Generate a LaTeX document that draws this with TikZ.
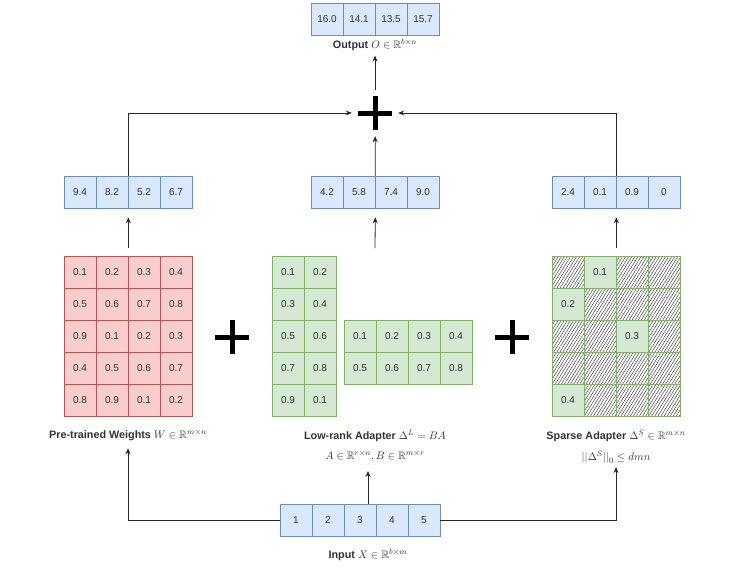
\documentclass[tikz,border=0pt]{standalone}
\usepackage{amssymb}
\usepackage{fontspec}
\setmainfont{Liberation Sans}
\usetikzlibrary{arrows.meta,patterns.meta}
\definecolor{bluefill}{HTML}{DAE8FC}
\definecolor{blueline}{HTML}{6C8EBF}
\definecolor{redfill}{HTML}{F8CECC}
\definecolor{redline}{HTML}{B85450}
\definecolor{greenfill}{HTML}{D5E8D4}
\definecolor{greenline}{HTML}{82B366}
\definecolor{txtgray}{HTML}{333333}
\tikzset{
  cell/.style={draw, minimum size=32pt, inner sep=0pt, line width=0.7pt,
    text=txtgray, font=\fontsize{10}{12}\selectfont},
  bcell/.style={cell, fill=bluefill, draw=blueline},
  rcell/.style={cell, fill=redfill, draw=redline},
  gcell/.style={cell, fill=greenfill, draw=greenline},
  hcell/.style={cell, draw=greenline, pattern color=black!75,
    pattern={Lines[angle=58,distance=2.6pt,line width=0.5pt]}},
  lab/.style={inner sep=0.5pt, text=txtgray, font=\fontsize{10.8}{12}\selectfont\bfseries},
  sublab/.style={inner sep=0.5pt, text=txtgray, font=\fontsize{10.8}{12}\selectfont},
  arr/.style={-{Stealth[length=6pt,width=5pt]}, line width=0.8pt, black!85},
  plus/.style={minimum size=46pt, inner sep=0pt,
    path picture={\draw[line width=5pt]
      ([xshift=-17pt]path picture bounding box.center) -- ([xshift=17pt]path picture bounding box.center)
      ([yshift=-17pt]path picture bounding box.center) -- ([yshift=17pt]path picture bounding box.center);}},
}
\begin{document}
\begin{tikzpicture}[x=1pt, y=-1pt]
  \useasboundingbox (0,0) rectangle (747,571);

  % output and the three products
  \foreach \v [count=\i] in {16.0,14.1,13.5,15.7}
    \node[bcell] (o\i) at (295+32*\i,19) {\v};
  \node[lab] (olab) at (375,45) {Output $O\in\mathbb{R}^{b\times n}$};
  \node[plus] (sum) at (375,113) {};
  \foreach \v [count=\i] in {9.4,8.2,5.2,6.7}
    \node[bcell] (l\i) at (48+32*\i,192) {\v};
  \foreach \v [count=\i] in {4.2,5.8,7.4,9.0}
    \node[bcell] (m\i) at (295+32*\i,192) {\v};
  \foreach \v [count=\i] in {2.4,0.1,0.9,0}
    \node[bcell] (r\i) at (536+32*\i,192) {\v};

  % pre-trained weights
  \foreach \row [count=\r] in {{0.1,0.2,0.3,0.4},{0.5,0.6,0.7,0.8},{0.9,0.1,0.2,0.3},{0.4,0.5,0.6,0.7},{0.8,0.9,0.1,0.2}}
    \foreach \v [count=\c] in \row
      \node[rcell] (w\r\c) at (48+32*\c,240+32*\r) {\v};
  \node[plus] (p1) at (232,337) {};

  % low-rank adapter B and A
  \foreach \row [count=\r] in {{0.1,0.2},{0.3,0.4},{0.5,0.6},{0.7,0.8},{0.9,0.1}}
    \foreach \v [count=\c] in \row
      \node[gcell] (b\r\c) at (256+32*\c,240+32*\r) {\v};
  \foreach \row [count=\r] in {{0.1,0.2,0.3,0.4},{0.5,0.6,0.7,0.8}}
    \foreach \v [count=\c] in \row
      \node[gcell] (a\r\c) at (328+32*\c,304+32*\r) {\v};
  \node[plus] (p2) at (512,337) {};

  % sparse adapter
  \foreach \r in {1,...,5}
    \foreach \c in {1,...,4}
      \node[hcell] (s\r\c) at (536+32*\c,240+32*\r) {};
  \foreach \r/\c/\v in {1/2/0.1,2/1/0.2,3/3/0.3,5/1/0.4}
    \node[gcell] at (s\r\c) {\v};

  % labels
  \node[lab] (wlab) at (128,435) {Pre-trained Weights $W\in\mathbb{R}^{m\times n}$};
  \node[lab] (lrlab) at (375,436) {Low-rank Adapter $\Delta^L=BA$};
  \node[sublab] (lrsub) at (375,456) {$A\in\mathbb{R}^{r\times n}, B\in\mathbb{R}^{m\times r}$};
  \node[lab] (splab) at (616,436) {Sparse Adapter $\Delta^S\in\mathbb{R}^{m\times n}$};
  \node[sublab] (spsub) at (616,457) {$\big|\big|\Delta^S\big|\big|_0\le dmn$};

  % input
  \foreach \v [count=\i] in {1,...,5}
    \node[bcell] (in\i) at (264+32*\i,520) {\v};
  \node[lab] (xlab) at (368,555) {Input $X\in\mathbb{R}^{b\times m}$};

  % connectors
  \coordinate (lrtop) at (375,248);
  \coordinate (lrbot) at (368,471);
  \draw[arr, shorten <=8pt, shorten >=9pt] (w12.north east) -- (l2.south east);
  \draw[arr, shorten >=9pt] (lrtop) -- (m2.south east);
  \draw[arr, shorten <=8pt, shorten >=9pt] (s12.north east) -- (r2.south east);
  \draw[arr] (l2.north east) |- (sum);
  \draw[arr] (r2.north east) |- (sum);
  \draw[arr] (m2.north east) -- (sum);
  \draw[arr, shorten >=4pt] (sum) -- (olab);
  \draw[arr, shorten >=7pt] (in1.west) -| (wlab);
  \draw[arr, shorten >=3pt] (in5.east) -| (spsub);
  \draw[arr] (lrbot |- in3.north) -- (lrbot);
\end{tikzpicture}
\end{document}
